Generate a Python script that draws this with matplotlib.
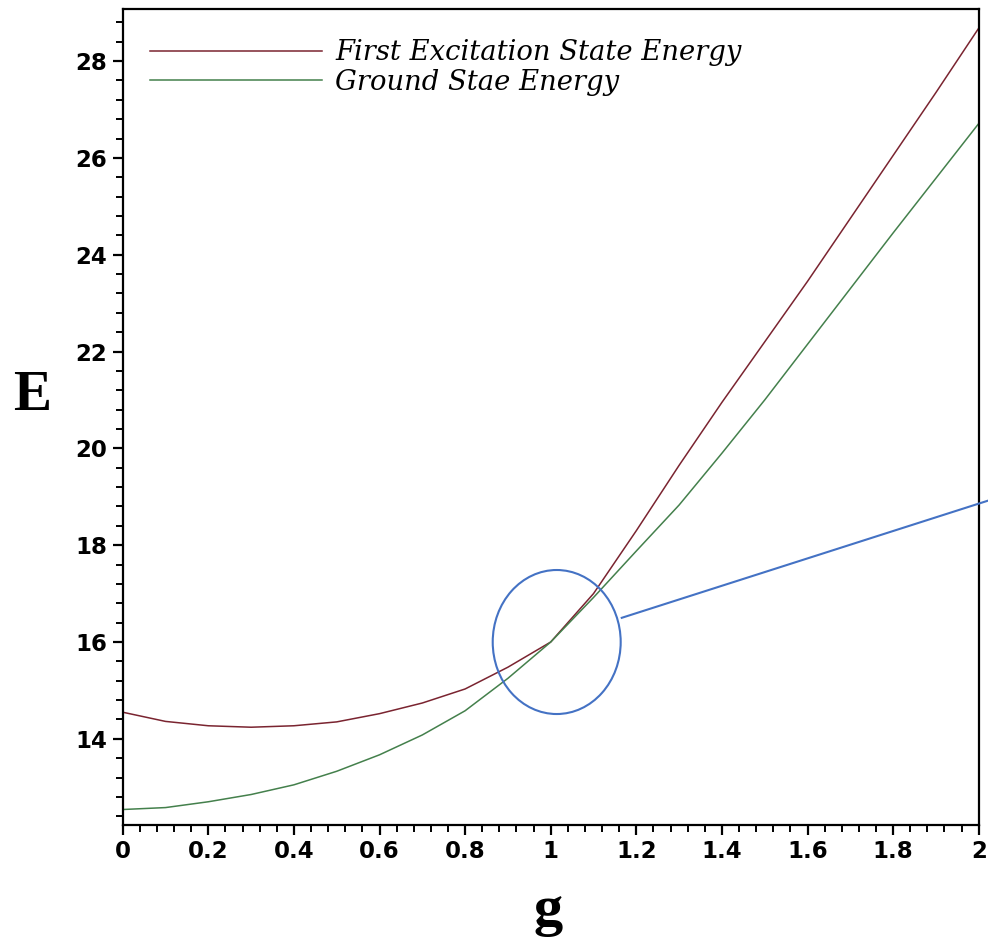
import matplotlib
matplotlib.use("Agg")
from matplotlib import pyplot as plt
from matplotlib.patches import Ellipse
import numpy as np

# g values and the two energy curves
g = [0.0, 0.1, 0.2, 0.3, 0.4, 0.5, 0.6, 0.7, 0.8, 0.9, 1.0,
     1.1, 1.2, 1.3, 1.4, 1.5, 1.6, 1.7, 1.8, 1.9, 2.0]
e_first = [14.55, 14.36, 14.27, 14.24, 14.27, 14.35, 14.52, 14.74, 15.03, 15.48, 16.0,
           17.0, 18.3, 19.65, 20.95, 22.2, 23.45, 24.75, 26.05, 27.35, 28.68]
e_ground = [12.54, 12.58, 12.70, 12.85, 13.05, 13.33, 13.67, 14.08, 14.58, 15.25, 16.0,
            16.92, 17.88, 18.83, 19.9, 21.0, 22.15, 23.3, 24.45, 25.58, 26.71]

labels = ["First Excitation State Energy", "Ground Stae Energy"]
x_ticks = [0, 0.2, 0.4, 0.6, 0.8, 1.0, 1.2, 1.4, 1.6, 1.8, 2.0]
x_tick_labels = ["0", "0.2", "0.4", "0.6", "0.8", "1", "1.2", "1.4", "1.6", "1.8", "2"]
y_ticks = [14, 16, 18, 20, 22, 24, 26, 28]

fig = plt.figure(figsize=(9.88, 9.39), dpi=100)
ax = fig.add_axes([0.1242, 0.1214, 0.8664, 0.8687])

ax.plot(g, e_first, color="#7a2430", linewidth=1.1, label=labels[0])
ax.plot(g, e_ground, color="#44804c", linewidth=1.1, label=labels[1])

ax.set_xlim(0, 2)
ax.set_ylim(12.22, 29.07)

# ticks
ax.set_xticks(x_ticks)
ax.set_xticklabels(x_tick_labels)
ax.set_xticks(np.arange(0, 2.001, 0.04), minor=True)
ax.set_yticks(y_ticks)
ax.set_yticks(np.arange(12.4, 29.0, 0.4), minor=True)
ax.tick_params(which="major", length=7, width=1.6, direction="out", pad=4,
               labelsize=16.5)
ax.tick_params(which="minor", length=5, width=1.4, direction="out")
for lab in ax.get_xticklabels() + ax.get_yticklabels():
    lab.set_fontweight("bold")
    lab.set_family("DejaVu Sans")
for sp in ax.spines.values():
    sp.set_linewidth(1.6)

# axis labels
ax.set_ylabel("E", family="Liberation Serif", fontweight="bold", fontsize=41,
              rotation=0, va="center", ha="center")
ax.yaxis.set_label_coords(-0.1054, 0.526)
ax.set_xlabel("g", family="Liberation Serif", fontweight="bold", fontsize=42,
              va="baseline", ha="center")
ax.xaxis.set_label_coords(0.497, -0.1226)

# legend
ax.legend(loc="upper left", bbox_to_anchor=(0.0319, 0.963), frameon=False,
          borderpad=0, borderaxespad=0, handlelength=6.3, handletextpad=0.47,
          labelspacing=0.09,
          prop={"family": "DejaVu Serif", "style": "italic", "size": 19.7})

# zoom-in marker around g=1
ell = Ellipse((1.014, 16.0), 0.299, 2.975, fill=False, edgecolor="#4472c4",
              linewidth=1.5, clip_on=False, zorder=5)
ax.add_patch(ell)
ax.plot([1.166, 2.05], [16.5, 19.0], color="#4472c4", linewidth=1.5,
        clip_on=False, zorder=5)

plt.savefig("out.png", dpi=100)
